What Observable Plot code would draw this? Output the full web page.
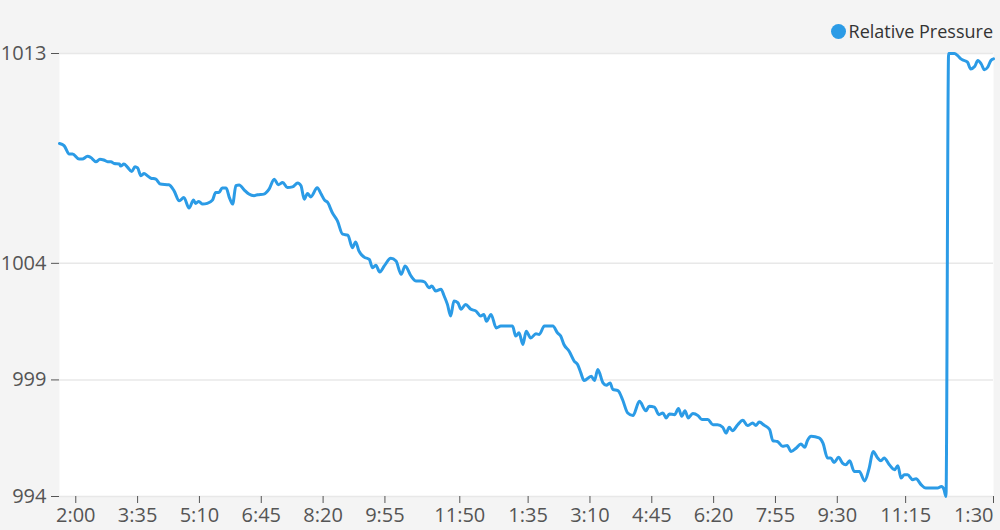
<!DOCTYPE html>
<html>
<head>
<meta charset="utf-8">
<script src="https://cdn.jsdelivr.net/npm/d3@7"></script>
<script src="https://cdn.jsdelivr.net/npm/@observablehq/plot@0.6"></script>
<style>
html, body { margin: 0; padding: 0; background: #f4f4f4; font-family: "Open Sans", sans-serif; }
#legend { height: 44px; box-sizing: border-box; display: flex; justify-content: flex-end; align-items: flex-end; padding-right: 7px; padding-bottom: 2px; }
#legend .item { display: flex; align-items: center; font-size: 18px; line-height: 22px; color: #333; }
#legend .dot { width: 15px; height: 15px; border-radius: 50%; margin-right: 3px; }
#chart svg { overflow: visible; display: block; }
</style>
</head>
<body>
<div id="legend"></div>
<div id="chart"></div>
<script>
const seriesName = "Relative Pressure";
const seriesColor = "#2b9be6";

const times = [
"01:35","01:42","01:50","01:55","02:05","02:10","02:18","02:23","02:31","02:37","02:43","02:49","02:54","02:59",
"03:07","03:09","03:14","03:19","03:26","03:31","03:35","03:40","03:45","03:50","03:55","04:03","04:10","04:23",
"04:31","04:39","04:46","04:54","05:01","05:04","05:09","05:15","05:22","05:30","05:35","05:40","05:45","05:51",
"05:56","06:01","06:06","06:11","06:19","06:26","06:34","06:39","06:49","06:57","07:05","07:11","07:18","07:25",
"07:33","07:41","07:46","07:51","07:56","08:01","08:11","08:17","08:22","08:27","08:34","08:42","08:50","08:58",
"09:05","09:10","09:15","09:23","09:31","09:36","09:41","09:47","09:54","10:04","10:12","10:20","10:26","10:35",
"10:43","10:50","10:56","11:03","11:07","11:13","11:21","11:26","11:31","11:36","11:41","11:47","11:52","11:59",
"12:07","12:15","12:22","12:27","12:31","12:38","12:46","12:53","13:01","13:11","13:16","13:21","13:27","13:32",
"13:39","13:47","13:52","14:00","14:13","14:20","14:25","14:30","14:38","14:46","14:51","14:56","15:01","15:12",
"15:17","15:22","15:30","15:35","15:41","15:45","15:53","16:00","16:08","16:16","16:26","16:36","16:41","16:49",
"16:56","17:02","17:07","17:12","17:20","17:26","17:31","17:36","17:41","17:48","17:56","18:02","18:11","18:19",
"18:26","18:34","18:39","18:44","18:49","18:57","19:05","19:12","19:20","19:25","19:30","19:38","19:46","19:51",
"19:58","20:06","20:13","20:19","20:27","20:34","20:40","20:44","20:50","21:02","21:08","21:15","21:20","21:25",
"21:32","21:38","21:43","21:49","21:56","22:04","22:12","22:19","22:25","22:32","22:37","22:42","22:50","22:58",
"23:03","23:08","23:13","23:18","23:26","23:31","23:39","23:46","23:55","00:04","00:10","00:14","00:17","00:21",
"00:30","00:35","00:40","00:45","00:50","00:55","01:01","01:06","01:11","01:16","01:21","01:26","01:30"
];

const pressure = [
1009.14,1009.05,1008.69,1008.69,1008.47,1008.47,1008.59,1008.54,1008.36,1008.46,1008.43,1008.36,1008.36,1008.28,
1008.26,1008.17,1008.26,1008.14,1007.94,1008.14,1008.09,1007.76,1007.85,1007.76,1007.66,1007.61,1007.40,1007.37,
1007.11,1006.68,1006.82,1006.37,1006.72,1006.57,1006.65,1006.54,1006.57,1006.71,1007.04,1007.04,1007.23,1007.23,
1006.82,1006.54,1007.33,1007.36,1007.14,1006.97,1006.90,1006.94,1006.97,1007.18,1007.61,1007.37,1007.47,1007.25,
1007.28,1007.45,1007.33,1006.75,1007.00,1006.85,1007.24,1006.97,1006.72,1006.61,1006.18,1005.82,1005.25,1005.21,
1004.67,1004.92,1004.53,1004.27,1004.17,1003.81,1003.92,1003.63,1003.89,1004.22,1004.10,1003.53,1003.89,1003.46,
1003.24,1003.24,1003.20,1002.95,1003.03,1002.81,1002.89,1002.60,1002.24,1001.74,1002.38,1002.31,1002.03,1002.24,
1002.03,1001.95,1001.74,1001.81,1001.52,1001.81,1001.23,1001.31,1001.31,1001.31,1000.88,1001.02,1000.52,1001.09,
1000.80,1000.98,1000.95,1001.31,1001.31,1001.02,1000.88,1000.52,1000.23,999.80,999.66,999.30,998.97,999.16,
998.97,999.45,998.87,998.77,998.87,998.59,998.54,998.16,997.58,997.47,998.08,997.68,997.87,997.83,
997.51,997.58,997.37,997.54,997.51,997.77,997.44,997.68,997.37,997.56,997.47,997.30,997.30,997.08,
997.08,996.97,996.72,996.97,996.82,997.08,997.27,997.04,997.15,997.05,997.19,997.05,996.87,996.39,
996.36,996.15,996.19,995.93,996.08,996.25,996.11,996.39,996.58,996.51,996.29,995.65,995.65,995.46,
995.68,995.43,995.36,995.53,995.07,995.07,994.67,995.22,995.93,995.65,995.53,995.65,995.36,995.15,
995.32,994.79,994.93,994.93,994.72,994.76,994.50,994.36,994.36,994.36,994.43,994.29,994.00,1013.00,
1013.00,1012.91,1012.77,1012.70,1012.63,1012.34,1012.44,1012.70,1012.56,1012.30,1012.41,1012.70,1012.77
];

const xTickTimes = ["02:00","03:35","05:10","06:45","08:20","09:55","11:50","13:35","15:10","16:45","18:20","19:55","21:30","23:15","01:30"];
const yTicks = [994, 999, 1004, 1013];

// Parse clock strings into dates; the day advances whenever the clock wraps past midnight.
function parseClock(list) {
  let day = 0, prev = -1;
  return list.map(s => {
    const [h, m] = s.split(":").map(Number);
    const mins = h * 60 + m;
    if (mins < prev) day++;
    prev = mins;
    return new Date(2024, 0, 1 + day, h, m);
  });
}

const dates = parseClock(times);
const tickDates = parseClock(xTickTimes);
const data = dates.map((t, i) => ({t, v: pressure[i]}));
const fmtX = d3.timeFormat("%-I:%M");

// Legend
const legend = document.getElementById("legend");
legend.innerHTML = `<div class="item"><span class="dot" style="background:${seriesColor}"></span><span>${seriesName}</span></div>`;

const chart = Plot.plot({
  width: 1000,
  height: 486,
  marginTop: 9,
  marginBottom: 34,
  marginLeft: 59,
  marginRight: 7,
  style: {background: "transparent", fontSize: "20px", fontFamily: "Open Sans, sans-serif", color: "#555", overflow: "visible"},
  x: {type: "time", domain: d3.extent(dates)},
  y: {domain: [994, 1013]},
  marks: [
    Plot.frame({fill: "white", stroke: "none"}),
    Plot.ruleY(yTicks, {stroke: "#e8e8e8", strokeWidth: 1.5}),
    Plot.lineY(data, {x: "t", y: "v", stroke: seriesColor, strokeWidth: 3, curve: "monotone-x"}),
    Plot.axisY(yTicks, {tickSize: 8, tickPadding: 5, tickFormat: d => String(d), label: null}),
    Plot.axisX(tickDates.slice(0, -1), {tickSize: 7, tickPadding: 4, tickFormat: fmtX, label: null}),
    Plot.axisX(tickDates.slice(-1), {tickSize: 7, tickPadding: 4, tickFormat: fmtX, textAnchor: "end", label: null})
  ]
});
document.getElementById("chart").appendChild(chart);
</script>
</body>
</html>
